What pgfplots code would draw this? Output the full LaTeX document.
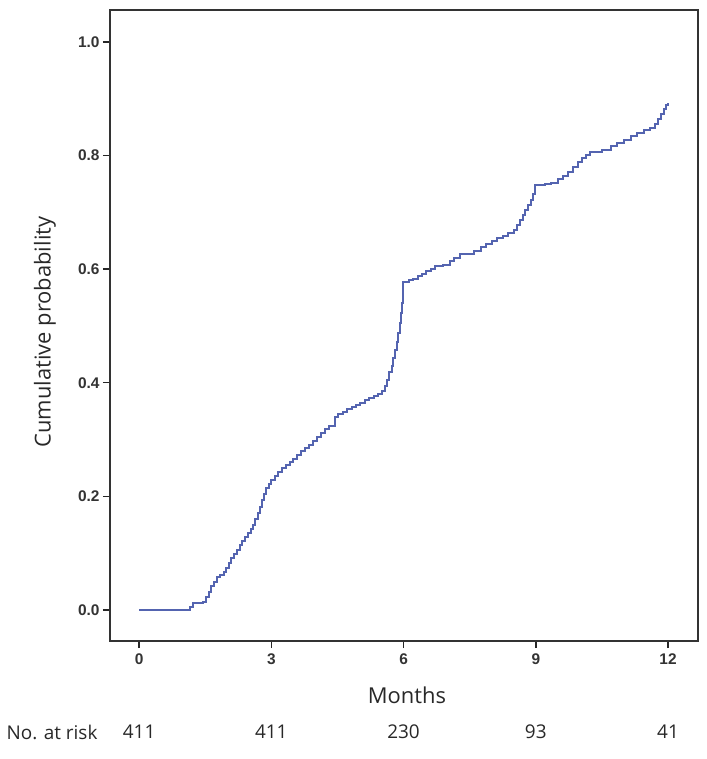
\documentclass[border=0pt]{standalone}
\usepackage{pgfplots}
\pgfplotsset{compat=1.18}
\usepackage{fontspec}
\setmainfont{Liberation Sans}
\newfontfamily\lightfont{Open Sans}
\definecolor{kmblue}{RGB}{84,100,176}
\definecolor{txt}{RGB}{40,40,40}
\begin{document}
\begin{tikzpicture}
\useasboundingbox (-110bp,-118bp) rectangle (597bp,641bp);
\begin{axis}[
  at={(0,0)}, anchor=south west,
  scale only axis, width=588bp, height=631bp,
  xmin=-0.66, xmax=12.68, ymin=-0.0546, ymax=1.056,
  xtick={0,3,6,9,12}, ytick={0,0.2,0.4,0.6,0.8,1.0},
  tick pos=left, tick align=outside,
  major tick length=7bp,
  every tick/.style={black!85, line width=1.5bp},
  axis line style={black!80, line width=1.4bp},
  yticklabel style={/pgf/number format/fixed,/pgf/number format/fixed zerofill,/pgf/number format/precision=1, font=\bfseries\fontsize{15.5}{18}\selectfont, text=black!80, xshift=0bp},
  xticklabel style={font=\bfseries\fontsize{15.5}{18}\selectfont, text=black!80, yshift=-2bp},
  /pgf/number format/assume math mode=true,
  clip=false,
]
\addplot[const plot, kmblue, line width=2bp] coordinates {
(0,0) (1.16,0.005) (1.22,0.012) (1.45,0.014) (1.52,0.022) (1.58,0.032) (1.64,0.042) (1.70,0.050) (1.76,0.058)
(1.84,0.062) (1.92,0.067) (1.98,0.074) (2.03,0.083) (2.09,0.092) (2.16,0.099) (2.22,0.106) (2.28,0.114)
(2.34,0.122) (2.40,0.128) (2.47,0.135) (2.53,0.143) (2.59,0.150) (2.64,0.160) (2.69,0.170) (2.74,0.182)
(2.79,0.194) (2.84,0.205) (2.89,0.214) (2.94,0.222) (3.00,0.229) (3.08,0.236) (3.16,0.243) (3.24,0.250)
(3.33,0.256) (3.42,0.261) (3.50,0.266) (3.58,0.272) (3.67,0.279) (3.76,0.285) (3.85,0.291) (3.94,0.297)
(4.03,0.304) (4.12,0.311) (4.22,0.318) (4.30,0.323) (4.45,0.340) (4.52,0.345) (4.62,0.349) (4.72,0.353)
(4.82,0.357) (4.92,0.361) (5.02,0.365) (5.12,0.369) (5.22,0.373) (5.32,0.377) (5.42,0.381) (5.52,0.385)
(5.58,0.395) (5.63,0.405) (5.68,0.418) (5.73,0.430) (5.77,0.443) (5.81,0.457) (5.85,0.472) (5.88,0.488)
(5.91,0.505) (5.94,0.522) (5.97,0.540) (5.99,0.578) (6.12,0.580) (6.22,0.583) (6.32,0.588) (6.42,0.592)
(6.52,0.597) (6.62,0.601) (6.72,0.605) (6.90,0.607) (7.05,0.614) (7.15,0.620) (7.28,0.627) (7.60,0.632)
(7.75,0.638) (7.88,0.644) (8.00,0.650) (8.12,0.655) (8.25,0.659) (8.38,0.663) (8.50,0.668) (8.58,0.677)
(8.64,0.686) (8.70,0.695) (8.76,0.704) (8.82,0.713) (8.88,0.722) (8.94,0.733) (8.99,0.748) (9.20,0.749)
(9.35,0.752) (9.50,0.758) (9.62,0.764) (9.72,0.770) (9.84,0.780) (9.95,0.788) (10.05,0.795) (10.15,0.801)
(10.22,0.806) (10.50,0.810) (10.70,0.816) (10.85,0.822) (11.00,0.828) (11.15,0.834) (11.30,0.839)
(11.45,0.844) (11.60,0.849) (11.70,0.856) (11.78,0.864) (11.85,0.873) (11.90,0.882) (11.95,0.888) (12.00,0.893)
};
\node[font=\lightfont\fontsize{19}{22}\selectfont, text=txt, anchor=center] at ([yshift=-91bp]axis cs:0,-0.0546) {411};
\node[font=\lightfont\fontsize{19}{22}\selectfont, text=txt, anchor=center] at ([yshift=-91bp]axis cs:3,-0.0546) {411};
\node[font=\lightfont\fontsize{19}{22}\selectfont, text=txt, anchor=center] at ([yshift=-91bp]axis cs:6,-0.0546) {230};
\node[font=\lightfont\fontsize{19}{22}\selectfont, text=txt, anchor=center] at ([yshift=-91bp]axis cs:9,-0.0546) {93};
\node[font=\lightfont\fontsize{19}{22}\selectfont, text=txt, anchor=center] at ([yshift=-91bp]axis cs:12,-0.0546) {41};
\end{axis}
\node[font=\lightfont\fontsize{19}{22}\selectfont, text=txt, anchor=center] at (-58bp,-91bp) {No. at risk};
\node[font=\lightfont\fontsize{22}{26}\selectfont, text=txt, anchor=center] at (297bp,-54bp) {Months};
\node[font=\lightfont\fontsize{22}{26}\selectfont, text=txt, anchor=center, rotate=90] at (-65bp,309bp) {Cumulative probability};
\end{tikzpicture}
\end{document}
